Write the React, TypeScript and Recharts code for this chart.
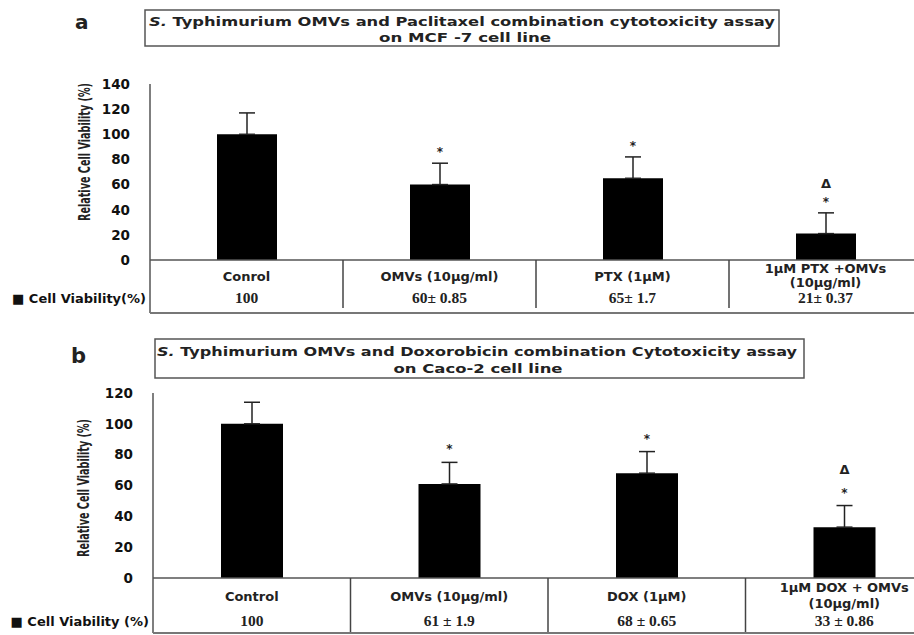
import React from 'react';
import { BarChart, Bar, XAxis, YAxis, ErrorBar, LabelList } from 'recharts';

// panel a - MCF-7 (paclitaxel)
const CATEGORIES_A = ['Conrol', 'OMVs (10µg/ml)', 'PTX (1µM)', '1µM PTX +OMVs\n(10µg/ml)'];
const VIABILITY_A = [100, 60, 65, 21];
const ERROR_A = [17, 17, 17, 16.5];
const TABLE_A = ['100', '60± 0.85', '65± 1.7', '21± 0.37'];
const MARKS_A = ['', '*', '*', '*Δ'];
const TICKS_A = [0, 20, 40, 60, 80, 100, 120, 140];

// panel b - Caco-2 (doxorubicin)
const CATEGORIES_B = ['Control', 'OMVs (10µg/ml)', 'DOX  (1µM)', '1µM DOX + OMVs\n(10µg/ml)'];
const VIABILITY_B = [100, 61, 68, 33];
const ERROR_B = [14, 14, 14, 14];
const TABLE_B = ['100', '61 ± 1.9', '68 ± 0.65', '33 ± 0.86'];
const MARKS_B = ['', '*', '*', '*Δ'];
const TICKS_B = [0, 20, 40, 60, 80, 100, 120];

const SANS = "'DejaVu Sans', Verdana, sans-serif";
const SERIF = "'Liberation Serif', 'Times New Roman', serif";
const TITLE_FONT = "'DejaVu Sans', 'Open Sans', sans-serif";
const NARROW = "'Liberation Sans Narrow', 'DejaVu Sans Condensed', sans-serif";

type Cfg = {
  band: number;
  labelDy: number;
  twoLineDy: [number, number];
  valueDy: number;
  sepDy: number;
  bottomDy: number;
  legend: string;
  values: number[];
  errors: number[];
  table: string[];
  starGap: number;
  deltaGap: number;
};

function makeTick(cfg: Cfg) {
  return (props: any) => {
    const { x, y, payload, index } = props;
    const lines = String(payload.value).split('\n');
    const left = x - cfg.band / 2;
    return (
      <g>
        {index > 0 && (
          <line x1={left} x2={left} y1={y} y2={y + cfg.sepDy} stroke="#444" strokeWidth={1.5} />
        )}
        {index === 0 && (
          <g>
            <line x1={left} x2={left} y1={y} y2={y + cfg.bottomDy} stroke="#555" strokeWidth={1.5} />
            <line x1={left} x2={left + cfg.band * 4 + 10} y1={y + cfg.bottomDy} y2={y + cfg.bottomDy} stroke="#777" strokeWidth={2} />
            <text x={left - 4} y={y + cfg.valueDy} textAnchor="end" fontFamily={SANS} fontWeight="bold" fontSize={13} fill="#111">
              {cfg.legend}
            </text>
          </g>
        )}
        {lines.length === 1 ? (
          <text x={x} y={y + cfg.labelDy} textAnchor="middle" fontFamily={SANS} fontWeight="bold" fontSize={13} fill="#222">
            {lines[0]}
          </text>
        ) : (
          lines.map((l, k) => (
            <text key={k} x={x} y={y + cfg.twoLineDy[k]} textAnchor="middle" fontFamily={SANS} fontWeight="bold" fontSize={13} fill="#222">
              {l}
            </text>
          ))
        )}
        <text x={x} y={y + cfg.valueDy} textAnchor="middle" fontFamily={SERIF} fontWeight="bold" fontSize={15.5} fill="#222">
          {cfg.table[index]}
        </text>
      </g>
    );
  };
}

function makeMarks(cfg: Cfg) {
  return (props: any) => {
    const { x, y, width, height, value, index } = props;
    if (!value) return null;
    const cx = x + width / 2;
    const capY = y - (cfg.errors[index] * height) / cfg.values[index];
    const starY = capY - cfg.starGap;
    return (
      <g>
        <text x={cx} y={starY + 7} textAnchor="middle" fontFamily={SANS} fontWeight="bold" fontSize={12} fill="#222">*</text>
        {String(value).includes('Δ') && (
          <text x={cx} y={starY - cfg.deltaGap + 5} textAnchor="middle" fontFamily={SANS} fontWeight="bold" fontSize={13} fill="#222">Δ</text>
        )}
      </g>
    );
  };
}

function Panel(props: {
  categories: string[];
  values: number[];
  errors: number[];
  table: string[];
  marks: string[];
  ticks: number[];
  width: number;
  height: number;
  top: number;
  marginTop: number;
  yAxisWidth: number;
  xAxisHeight: number;
  barSize: number;
  labelX: number;
  labelY: number;
  cfg: Omit<Cfg, 'values' | 'errors' | 'table'>;
}) {
  const data = props.categories.map((name, i) => ({
    name,
    value: props.values[i],
    err: [0, props.errors[i]],
    mark: props.marks[i],
  }));
  const cfg: Cfg = { ...props.cfg, values: props.values, errors: props.errors, table: props.table };
  const max = props.ticks[props.ticks.length - 1];
  return (
    <div style={{ position: 'absolute', left: 0, top: props.top }}>
      <BarChart
        width={props.width}
        height={props.height}
        data={data}
        margin={{ top: props.marginTop, right: 2, bottom: 0, left: 0 }}
        barCategoryGap={0}
      >
        <XAxis
          dataKey="name"
          interval={0}
          tickLine={false}
          tickSize={0}
          tickMargin={0}
          height={props.xAxisHeight}
          axisLine={{ stroke: '#555', strokeWidth: 1.5 }}
          tick={makeTick(cfg)}
        />
        <YAxis
          type="number"
          domain={[0, max]}
          ticks={props.ticks}
          interval={0}
          width={props.yAxisWidth}
          tickLine={false}
          tickMargin={14}
          axisLine={{ stroke: '#555', strokeWidth: 1.5 }}
          tick={{ fill: '#111', fontSize: 13.5, fontWeight: 'bold', fontFamily: SANS }}
          label={{
            content: () => (
              <text
                x={props.labelX}
                y={props.labelY}
                transform={`rotate(-90 ${props.labelX} ${props.labelY})`}
                textAnchor="middle"
                dominantBaseline="central"
                fontFamily={NARROW}
                fontWeight="bold"
                fontSize={16}
                fill="#222"
                textLength={138}
                lengthAdjust="spacingAndGlyphs"
              >
                Relative Cell Viability (%)
              </text>
            ),
          }}
        />
        <Bar dataKey="value" fill="#000" barSize={props.barSize} isAnimationActive={false}>
          <ErrorBar dataKey="err" width={8} strokeWidth={1.5} stroke="#222" direction="y" />
          <LabelList dataKey="mark" content={makeMarks(cfg)} />
        </Bar>
      </BarChart>
    </div>
  );
}

function Titles() {
  return (
    <svg width={914} height={635} style={{ position: 'absolute', left: 0, top: 0, pointerEvents: 'none' }}>
      <text x={75} y={29} fontFamily={TITLE_FONT} fontWeight="bold" fontSize={20} fill="#222">a</text>
      <rect x={145} y={10} width={634} height={36} fill="#fff" stroke="#555" strokeWidth={1.5} />
      <text x={462} y={26} textAnchor="middle" fontFamily={TITLE_FONT} fontWeight="bold" fontSize={12} fill="#222" textLength={626} lengthAdjust="spacingAndGlyphs">
        <tspan fontStyle="italic">S.</tspan> Typhimurium OMVs  and Paclitaxel combination cytotoxicity assay
      </text>
      <text x={465} y={42} textAnchor="middle" fontFamily={TITLE_FONT} fontWeight="bold" fontSize={12} fill="#222" textLength={172} lengthAdjust="spacingAndGlyphs">
        on MCF -7 cell line
      </text>

      <text x={71} y={363} fontFamily={TITLE_FONT} fontWeight="bold" fontSize={21} fill="#222">b</text>
      <rect x={155} y={339} width={649} height={39} fill="#fff" stroke="#555" strokeWidth={1.5} />
      <text x={477} y={356} textAnchor="middle" fontFamily={TITLE_FONT} fontWeight="bold" fontSize={12.5} fill="#222" textLength={640} lengthAdjust="spacingAndGlyphs">
        <tspan fontStyle="italic">S.</tspan> Typhimurium OMVs and Doxorobicin combination Cytotoxicity assay
      </text>
      <text x={478} y={373} textAnchor="middle" fontFamily={TITLE_FONT} fontWeight="bold" fontSize={12.5} fill="#222" textLength={169} lengthAdjust="spacingAndGlyphs">
        on Caco-2  cell line
      </text>
    </svg>
  );
}

export default function App() {
  return (
    <div style={{ position: 'absolute', left: 0, top: 0, width: 914, height: 635, overflow: 'hidden', background: '#fff' }}>
      <Panel
        categories={CATEGORIES_A}
        values={VIABILITY_A}
        errors={ERROR_A}
        table={TABLE_A}
        marks={MARKS_A}
        ticks={TICKS_A}
        width={924}
        height={320}
        top={0}
        marginTop={84}
        yAxisWidth={150}
        xAxisHeight={60}
        barSize={60}
        labelX={84}
        labelY={152}
        cfg={{
          band: 193,
          labelDy: 21,
          twoLineDy: [13, 27],
          valueDy: 43,
          sepDy: 48,
          bottomDy: 53,
          legend: '■ Cell Viability(%)',
          starGap: 14,
          deltaGap: 16,
        }}
      />
      <Panel
        categories={CATEGORIES_B}
        values={VIABILITY_B}
        errors={ERROR_B}
        table={TABLE_B}
        marks={MARKS_B}
        ticks={TICKS_B}
        width={945}
        height={335}
        top={300}
        marginTop={93}
        yAxisWidth={153}
        xAxisHeight={57}
        barSize={62}
        labelX={83}
        labelY={188}
        cfg={{
          band: 197.5,
          labelDy: 23,
          twoLineDy: [14, 30],
          valueDy: 48,
          sepDy: 54,
          bottomDy: 55,
          legend: '■ Cell Viability (%)',
          starGap: 16,
          deltaGap: 21,
        }}
      />
      <Titles />
    </div>
  );
}
